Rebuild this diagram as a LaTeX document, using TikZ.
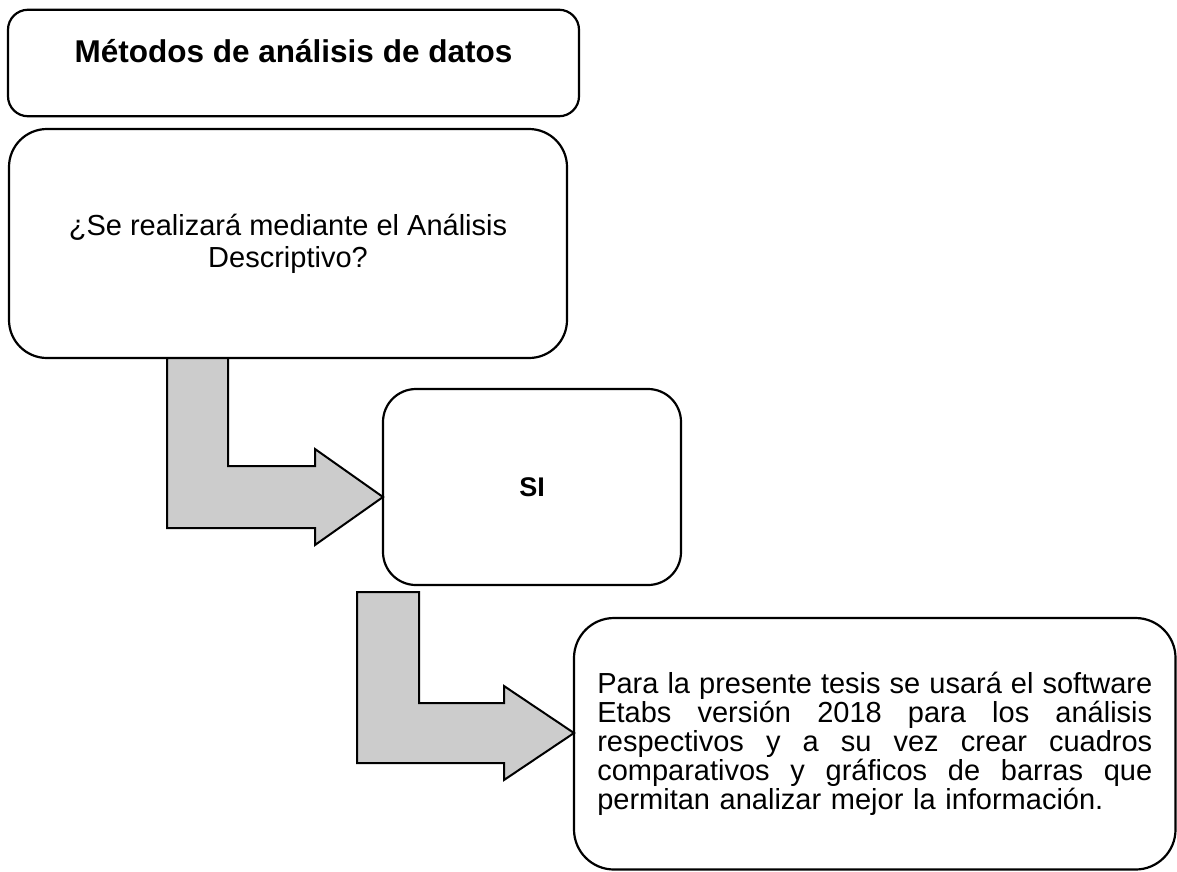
\documentclass[tikz,border=0pt]{standalone}
\usepackage{fontspec}
\setmainfont{Liberation Sans}
\usetikzlibrary{calc}
\definecolor{arrowgray}{HTML}{CCCCCC}
\newcommand\jline[1]{\leavevmode\hbox to 555pt{\spaceskip=0.278em plus 1fil\relax #1}}
\begin{document}
\begin{tikzpicture}[x=1pt,y=-1pt,
  roundbox/.style={draw=black, line width=2.2pt, rounded corners=#1, inner sep=0pt, outer sep=0pt},
  blockarrow/.style={draw=black, fill=arrowgray, line width=2pt, line join=miter},
  bodyfont/.style={font=\fontsize{29}{32}\selectfont}
]
\useasboundingbox (0,0) rectangle (1177,871);
\fill[white] (0,0) rectangle (1177,871);

% boxes
\node[roundbox=20pt, minimum width=571pt, minimum height=106.5pt] (title) at (293.5,63) {};
\node[anchor=base, inner sep=0pt, font=\fontsize{31.5}{36}\selectfont\bfseries] (titletext) at (293.5,62.7) {Métodos de análisis de datos};

\node[roundbox=38pt, minimum width=558pt, minimum height=229pt, align=center, bodyfont] (question) at (288,243.5) {¿Se realizará mediante el Análisis\\Descriptivo?};

\node[roundbox=33pt, minimum width=298pt, minimum height=196pt, font=\fontsize{27}{30}\selectfont\bfseries] (si) at (532,487) {SI};

\node[roundbox=40pt, minimum width=601.5pt, minimum height=251.5pt, text width=555pt, align=left, font=\fontsize{29}{29}\selectfont] (result) at (874.75,743.75)
{\jline{Para la presente tesis se usará el software}\\
 \jline{Etabs versión 2018 para los análisis}\\
 \jline{respectivos y a su vez crear cuadros}\\
 \jline{comparativos y gráficos de barras que}\\
 permitan analizar mejor la información.};

% block arrows
\coordinate (a1) at ($(question.south west)+(158,0)$);
\draw[blockarrow] (a1) -- ++(61,0) -- ++(0,108) -- ++(87,0) -- ++(0,-17)
  -- ($(si.west)+(0,10)$) -- ++(-68,48) -- ++(0,-17) -| (a1) -- cycle;

\coordinate (a2) at ($(si.south west)+(-26,7)$);
\draw[blockarrow] (a2) -- ++(62,0) -- ++(0,111) -- ++(85,0) -- ++(0,-17)
  -- ($(result.west)+(0,-10.75)$) -- ++(-70,47) -- ++(0,-17) -| (a2) -- cycle;
\end{tikzpicture}
\end{document}
